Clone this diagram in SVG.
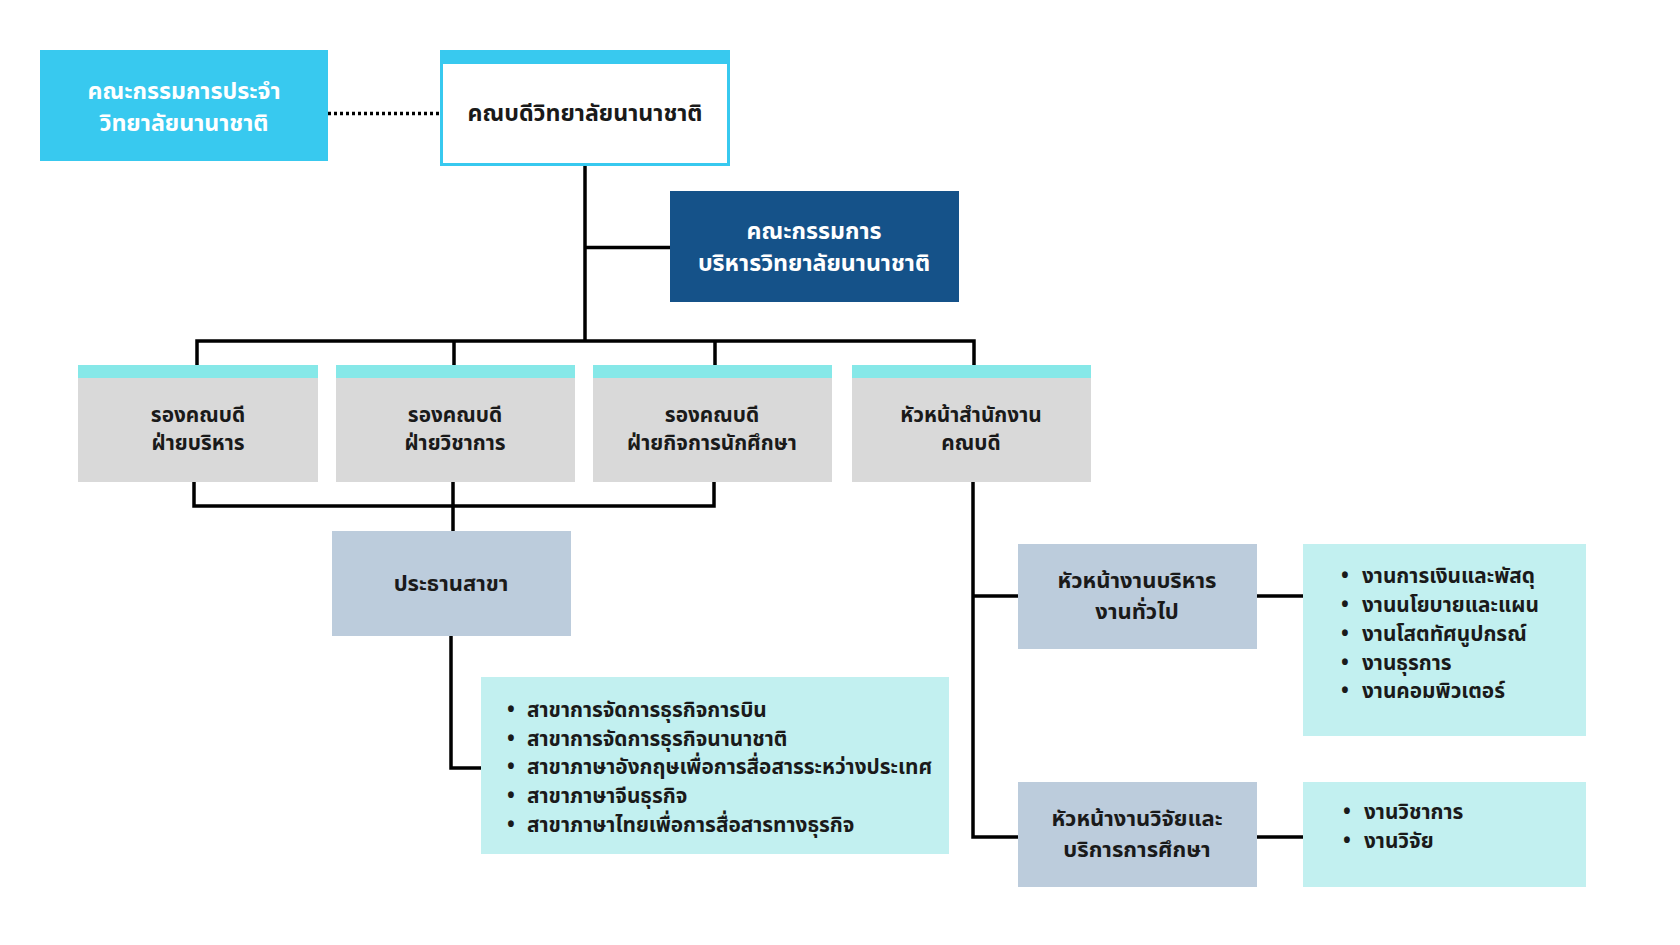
<svg xmlns="http://www.w3.org/2000/svg" width="1680" height="945" viewBox="0 0 1680 945">
<style>
text{font-family:"Noto Sans Thai","Noto Sans","DejaVu Sans",sans-serif;font-weight:bold;font-size:20.8px;fill:#1a1a1a}
.c{text-anchor:middle}
.w{fill:#ffffff}
.t{font-size:23.2px}
.s{font-size:22px}
.ln{stroke:#000;stroke-width:3.5;fill:none}
.cyan{fill:#38C9EF}
.gray{fill:#D9D9D9}
.bar{fill:#86E8E8}
.bg{fill:#BCCCDC}
.lc{fill:#C2F0F0}
</style>
<rect width="1680" height="945" fill="#fff"/>
<g id="connectors">
<line class="ln" x1="328" y1="113.5" x2="440" y2="113.5" stroke-dasharray="3,3"/>
<path class="ln" d="M585 166V341"/>
<path class="ln" d="M585 247.5H670"/>
<path class="ln" d="M197 365V341H974V365M454 341V365M715 341V365"/>
<path class="ln" d="M194 482V506H714V482M453 482V531"/>
<path class="ln" d="M451 636V768H481"/>
<path class="ln" d="M973 482V837H1018M973 596H1018"/>
<path class="ln" d="M1257 596H1303M1257 837H1303"/>
</g>
<g id="n-committee">
<rect class="cyan" x="40" y="50" width="288" height="111"/>
<text class="c w t" x="184" y="99">คณะกรรมการประจำ</text>
<text class="c w t" x="184" y="131">วิทยาลัยนานาชาติ</text>
</g>
<g id="n-dean">
<rect x="441.5" y="51.5" width="287" height="113" fill="#fff" stroke="#38C9EF" stroke-width="3"/>
<rect class="cyan" x="440" y="50" width="290" height="14"/>
<text class="c t" x="585" y="121">คณบดีวิทยาลัยนานาชาติ</text>
</g>
<g id="n-exec">
<rect x="670" y="191" width="289" height="111" fill="#155289"/>
<text class="c w t" x="814" y="239">คณะกรรมการ</text>
<text class="c w t" x="814" y="271">บริหารวิทยาลัยนานาชาติ</text>
</g>
<g id="n-vp1">
<rect class="gray" x="78" y="365" width="240" height="117"/>
<rect class="bar" x="78" y="365" width="240" height="13"/>
<text class="c" x="198" y="422">รองคณบดี</text>
<text class="c" x="198" y="450">ฝ่ายบริหาร</text>
</g>
<g id="n-vp2">
<rect class="gray" x="336" y="365" width="239" height="117"/>
<rect class="bar" x="336" y="365" width="239" height="13"/>
<text class="c" x="455" y="422">รองคณบดี</text>
<text class="c" x="455" y="450">ฝ่ายวิชาการ</text>
</g>
<g id="n-vp3">
<rect class="gray" x="593" y="365" width="239" height="117"/>
<rect class="bar" x="593" y="365" width="239" height="13"/>
<text class="c" x="712" y="422">รองคณบดี</text>
<text class="c" x="712" y="450">ฝ่ายกิจการนักศึกษา</text>
</g>
<g id="n-head">
<rect class="gray" x="852" y="365" width="239" height="117"/>
<rect class="bar" x="852" y="365" width="239" height="13"/>
<text class="c" x="971" y="422">หัวหน้าสำนักงาน</text>
<text class="c" x="971" y="450">คณบดี</text>
</g>
<g id="n-chair">
<rect class="bg" x="332" y="531" width="239" height="105"/>
<text class="c s" x="451" y="591">ประธานสาขา</text>
</g>
<g id="n-programs">
<rect class="lc" x="481" y="677" width="468" height="177"/>
<text x="507" y="717">•</text><text x="527" y="717">สาขาการจัดการธุรกิจการบิน</text>
<text x="507" y="746">•</text><text x="527" y="746">สาขาการจัดการธุรกิจนานาชาติ</text>
<text x="507" y="774">•</text><text x="527" y="774">สาขาภาษาอังกฤษเพื่อการสื่อสารระหว่างประเทศ</text>
<text x="507" y="803">•</text><text x="527" y="803">สาขาภาษาจีนธุรกิจ</text>
<text x="507" y="832">•</text><text x="527" y="832">สาขาภาษาไทยเพื่อการสื่อสารทางธุรกิจ</text>
</g>
<g id="n-admin">
<rect class="bg" x="1018" y="544" width="239" height="105"/>
<text class="c s" x="1137" y="588">หัวหน้างานบริหาร</text>
<text class="c s" x="1137" y="619">งานทั่วไป</text>
</g>
<g id="n-admin-list">
<rect class="lc" x="1303" y="544" width="283" height="192"/>
<text x="1341" y="583">•</text><text x="1362" y="583">งานการเงินและพัสดุ</text>
<text x="1341" y="612">•</text><text x="1362" y="612">งานนโยบายและแผน</text>
<text x="1341" y="641">•</text><text x="1362" y="641">งานโสตทัศนูปกรณ์</text>
<text x="1341" y="670">•</text><text x="1362" y="670">งานธุรการ</text>
<text x="1341" y="698">•</text><text x="1362" y="698">งานคอมพิวเตอร์</text>
</g>
<g id="n-research">
<rect class="bg" x="1018" y="782" width="239" height="105"/>
<text class="c s" x="1137" y="826">หัวหน้างานวิจัยและ</text>
<text class="c s" x="1137" y="857">บริการการศึกษา</text>
</g>
<g id="n-research-list">
<rect class="lc" x="1303" y="782" width="283" height="105"/>
<text x="1343" y="819">•</text><text x="1364" y="819">งานวิชาการ</text>
<text x="1343" y="848">•</text><text x="1364" y="848">งานวิจัย</text>
</g>
</svg>
